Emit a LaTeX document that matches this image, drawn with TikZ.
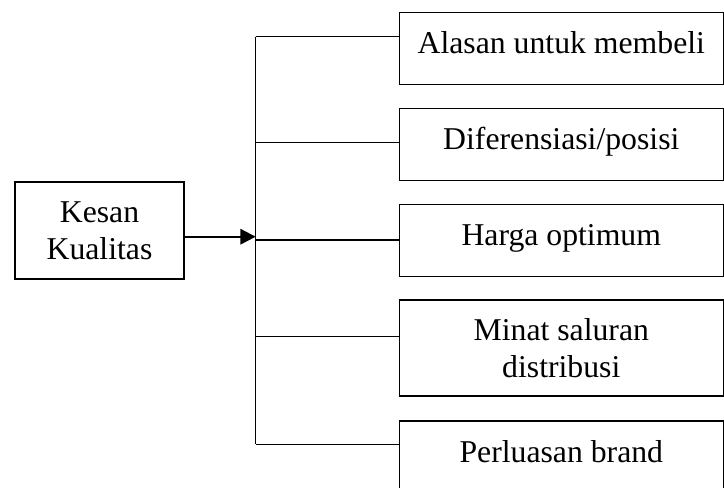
\documentclass[tikz,border=0pt]{standalone}
\usepackage{fontspec}
\setmainfont{Liberation Serif}
\usepackage{tikz}
\usetikzlibrary{arrows.meta}

\tikzset{
  kotak/.style={draw, inner sep=0pt, align=center, font=\fontsize{23.8pt}{27.75pt}\selectfont},
  satubaris/.style={kotak, minimum width=243pt, minimum height=54pt, text height=16pt, text depth=8.5pt},
}

\begin{document}
\begin{tikzpicture}[x=0.75pt,y=-0.75pt,line width=1pt]
  \useasboundingbox (0,0) rectangle (724,487);
  \node[kotak, minimum width=126.75pt, minimum height=72.75pt] (kesan) at (99.5,230.5) {Kesan\\Kualitas};
  \node[satubaris] (alasan) at (561.3,48.3) {Alasan untuk membeli};
  \node[satubaris] (diferensiasi) at (561.3,144.2) {Diferensiasi/posisi};
  \node[satubaris] (harga) at (561.3,240.5) {Harga optimum};
  \node[kotak, minimum width=243pt, minimum height=72pt] (minat) at (561.3,348) {Minat saluran\\distribusi};
  \node[satubaris] (perluasan) at (561.3,457) {Perluasan brand};
  \coordinate (t1) at (255.7,36.7);
  \coordinate (t2) at (255.7,142.7);
  \coordinate (t3) at (255.7,240);
  \coordinate (t4) at (255.7,336.7);
  \coordinate (t5) at (255.7,444.3);
  \coordinate (ta) at (255.7,236.7);
  \draw (t1) -- (t5);
  \draw (t1) -- (t1 -| alasan.west);
  \draw (t2) -- (t2 -| diferensiasi.west);
  \draw (t3) -- (t3 -| harga.west);
  \draw (t4) -- (t4 -| minat.west);
  \draw (t5) -- (t5 -| perluasan.west);
  \draw[line width=1.6pt, -{Triangle[length=11.5pt,width=11.5pt]}] (kesan.east |- ta) -- (ta);
\end{tikzpicture}
\end{document}
